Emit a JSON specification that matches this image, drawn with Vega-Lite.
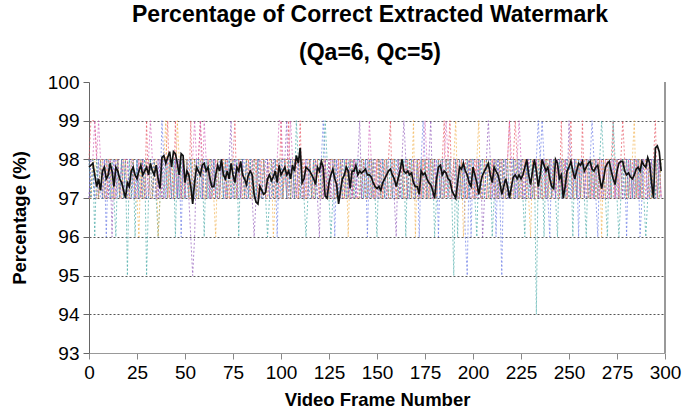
{
"$schema": "https://vega.github.io/schema/vega-lite/v6.json",
"width": 576, "height": 271,
"autosize": {"type": "none"},
"padding": {"left": 89, "top": 82, "right": 35, "bottom": 62},
"background": "white",
"config": {"view": {"stroke": null}, "font": "Liberation Sans"},
"title": {"text": "Percentage of Correct Extracted Watermark", "subtitle": "(Qa=6, Qc=5)", "fontSize": 23, "subtitleFontSize": 23, "subtitleFontWeight": "bold", "font": "Liberation Sans", "subtitleFont": "Liberation Sans", "color": "#000", "subtitleColor": "#000", "anchor": "middle", "dx": -7, "offset": 8, "subtitlePadding": 15},
"datasets": {"border": [{"f": 300, "value": 93, "v2": 100}]},
"data": {"values": [
{"f":0,"r":98,"p":97,"u":98,"b":97,"t":98,"o":97,"m":97.8},
{"f":1,"r":99,"p":98,"u":97,"b":98,"t":97,"o":97,"m":97.85},
{"f":2,"r":99,"p":98,"u":98,"b":98,"t":98,"o":98,"m":97.9},
{"f":3,"r":99,"p":99,"u":97,"b":97,"t":96,"o":98,"m":97.6},
{"f":4,"r":98,"p":98,"u":97,"b":97,"t":98,"o":97,"m":97.3},
{"f":5,"r":97,"p":99,"u":98,"b":98,"t":97,"o":97,"m":97.5},
{"f":6,"r":98,"p":98,"u":98,"b":97,"t":98,"o":98,"m":97.2},
{"f":7,"r":97,"p":98,"u":97,"b":97,"t":97,"o":98,"m":97.7},
{"f":8,"r":97,"p":97,"u":98,"b":98,"t":97,"o":97,"m":97.8},
{"f":9,"r":98,"p":97,"u":97,"b":96,"t":98,"o":97,"m":97.5},
{"f":10,"r":97,"p":98,"u":97,"b":98,"t":98,"o":98,"m":97.6},
{"f":11,"r":98,"p":98,"u":98,"b":97,"t":97,"o":98,"m":97.9},
{"f":12,"r":98,"p":97,"u":96,"b":97,"t":98,"o":97,"m":97.7},
{"f":13,"r":97,"p":97,"u":98,"b":98,"t":97,"o":97,"m":97.3},
{"f":14,"r":97,"p":98,"u":97,"b":98,"t":96,"o":98,"m":97.8},
{"f":15,"r":98,"p":98,"u":98,"b":97,"t":98,"o":98,"m":97.7},
{"f":16,"r":97,"p":97,"u":97,"b":97,"t":97,"o":97,"m":97.5},
{"f":17,"r":98,"p":97,"u":98,"b":98,"t":98,"o":97,"m":97.4},
{"f":18,"r":97,"p":98,"u":97,"b":98,"t":97,"o":98,"m":97.2},
{"f":19,"r":98,"p":98,"u":98,"b":97,"t":98,"o":98,"m":97.0},
{"f":20,"r":98,"p":97,"u":98,"b":97,"t":95,"o":97,"m":97.4},
{"f":21,"r":97,"p":97,"u":97,"b":98,"t":98,"o":97,"m":97.3},
{"f":22,"r":97,"p":98,"u":97,"b":98,"t":97,"o":98,"m":97.7},
{"f":23,"r":98,"p":98,"u":98,"b":97,"t":98,"o":98,"m":97.8},
{"f":24,"r":97,"p":97,"u":97,"b":97,"t":96,"o":97,"m":97.6},
{"f":25,"r":97,"p":97,"u":98,"b":98,"t":98,"o":97,"m":97.5},
{"f":26,"r":98,"p":98,"u":97,"b":97,"t":97,"o":96,"m":97.7},
{"f":27,"r":97,"p":98,"u":97,"b":97,"t":98,"o":98,"m":97.85},
{"f":28,"r":98,"p":97,"u":98,"b":98,"t":97,"o":97,"m":97.6},
{"f":29,"r":97,"p":97,"u":97,"b":98,"t":98,"o":97,"m":97.7},
{"f":30,"r":99,"p":98,"u":97,"b":97,"t":95,"o":98,"m":97.8},
{"f":31,"r":97,"p":98,"u":98,"b":97,"t":97,"o":98,"m":97.6},
{"f":32,"r":98,"p":99,"u":97,"b":98,"t":98,"o":97,"m":97.9},
{"f":33,"r":97,"p":98,"u":97,"b":98,"t":97,"o":97,"m":97.7},
{"f":34,"r":98,"p":98,"u":98,"b":97,"t":98,"o":98,"m":97.6},
{"f":35,"r":97,"p":97,"u":98,"b":97,"t":97,"o":98,"m":97.85},
{"f":36,"r":98,"p":97,"u":97,"b":98,"t":96,"o":96,"m":97.5},
{"f":37,"r":98,"p":98,"u":98,"b":97,"t":97,"o":97,"m":97.25},
{"f":38,"r":97,"p":98,"u":97,"b":99,"t":98,"o":98,"m":98.05},
{"f":39,"r":97,"p":97,"u":98,"b":98,"t":97,"o":98,"m":98.1},
{"f":40,"r":98,"p":97,"u":98,"b":97,"t":98,"o":99,"m":97.9},
{"f":41,"r":99,"p":98,"u":97,"b":98,"t":97,"o":97,"m":98.05},
{"f":42,"r":97,"p":98,"u":98,"b":98,"t":98,"o":98,"m":98.2},
{"f":43,"r":98,"p":97,"u":97,"b":97,"t":97,"o":98,"m":97.8},
{"f":44,"r":97,"p":97,"u":97,"b":97,"t":98,"o":97,"m":98.2},
{"f":45,"r":99,"p":98,"u":98,"b":98,"t":96,"o":97,"m":98.15},
{"f":46,"r":97,"p":98,"u":97,"b":97,"t":98,"o":99,"m":97.9},
{"f":47,"r":98,"p":97,"u":98,"b":98,"t":97,"o":98,"m":97.6},
{"f":48,"r":97,"p":97,"u":97,"b":96,"t":98,"o":97,"m":98.15},
{"f":49,"r":98,"p":98,"u":98,"b":98,"t":97,"o":97,"m":98.1},
{"f":50,"r":97,"p":98,"u":97,"b":97,"t":97,"o":98,"m":97.4},
{"f":51,"r":98,"p":98,"u":98,"b":97,"t":98,"o":98,"m":97.7},
{"f":52,"r":97,"p":97,"u":97,"b":98,"t":97,"o":97,"m":97.6},
{"f":53,"r":99,"p":97,"u":96,"b":98,"t":98,"o":97,"m":97.3},
{"f":54,"r":97,"p":98,"u":95,"b":97,"t":97,"o":98,"m":96.85},
{"f":55,"r":98,"p":99,"u":96,"b":97,"t":98,"o":98,"m":97.4},
{"f":56,"r":97,"p":98,"u":98,"b":98,"t":97,"o":97,"m":97.8},
{"f":57,"r":98,"p":98,"u":97,"b":98,"t":98,"o":97,"m":97.7},
{"f":58,"r":99,"p":99,"u":98,"b":97,"t":97,"o":98,"m":97.6},
{"f":59,"r":98,"p":97,"u":97,"b":97,"t":98,"o":98,"m":97.85},
{"f":60,"r":97,"p":99,"u":98,"b":98,"t":96,"o":97,"m":97.9},
{"f":61,"r":97,"p":98,"u":97,"b":98,"t":98,"o":97,"m":97.7},
{"f":62,"r":98,"p":98,"u":98,"b":97,"t":97,"o":98,"m":97.8},
{"f":63,"r":97,"p":97,"u":97,"b":97,"t":98,"o":98,"m":97.5},
{"f":64,"r":98,"p":97,"u":97,"b":98,"t":97,"o":97,"m":97.3},
{"f":65,"r":97,"p":98,"u":98,"b":98,"t":98,"o":97,"m":97.3},
{"f":66,"r":98,"p":98,"u":97,"b":97,"t":97,"o":96,"m":97.6},
{"f":67,"r":97,"p":97,"u":98,"b":97,"t":98,"o":98,"m":97.85},
{"f":68,"r":97,"p":97,"u":97,"b":98,"t":97,"o":97,"m":97.7},
{"f":69,"r":98,"p":98,"u":98,"b":98,"t":98,"o":97,"m":98.0},
{"f":70,"r":98,"p":98,"u":97,"b":97,"t":97,"o":98,"m":97.6},
{"f":71,"r":97,"p":98,"u":98,"b":97,"t":98,"o":98,"m":97.5},
{"f":72,"r":98,"p":97,"u":97,"b":98,"t":97,"o":97,"m":97.7},
{"f":73,"r":97,"p":97,"u":98,"b":98,"t":98,"o":97,"m":97.5},
{"f":74,"r":97,"p":98,"u":99,"b":97,"t":97,"o":98,"m":97.9},
{"f":75,"r":98,"p":98,"u":97,"b":97,"t":98,"o":98,"m":97.6},
{"f":76,"r":99,"p":97,"u":98,"b":98,"t":97,"o":97,"m":97.4},
{"f":77,"r":97,"p":97,"u":97,"b":98,"t":98,"o":97,"m":97.8},
{"f":78,"r":98,"p":98,"u":98,"b":97,"t":96,"o":98,"m":97.7},
{"f":79,"r":97,"p":98,"u":97,"b":97,"t":98,"o":98,"m":97.95},
{"f":80,"r":98,"p":97,"u":98,"b":98,"t":98,"o":97,"m":97.6},
{"f":81,"r":97,"p":97,"u":97,"b":98,"t":97,"o":97,"m":97.5},
{"f":82,"r":97,"p":98,"u":98,"b":97,"t":98,"o":98,"m":97.35},
{"f":83,"r":98,"p":98,"u":97,"b":97,"t":97,"o":98,"m":97.6},
{"f":84,"r":97,"p":97,"u":98,"b":98,"t":98,"o":97,"m":97.7},
{"f":85,"r":98,"p":97,"u":97,"b":98,"t":97,"o":97,"m":97.6},
{"f":86,"r":97,"p":98,"u":96,"b":97,"t":98,"o":98,"m":97.1},
{"f":87,"r":98,"p":98,"u":97,"b":97,"t":97,"o":98,"m":96.9},
{"f":88,"r":97,"p":97,"u":98,"b":98,"t":98,"o":97,"m":96.85},
{"f":89,"r":98,"p":97,"u":97,"b":98,"t":97,"o":97,"m":97.3},
{"f":90,"r":97,"p":98,"u":97,"b":97,"t":97,"o":98,"m":97.2},
{"f":91,"r":98,"p":98,"u":98,"b":97,"t":98,"o":98,"m":97.1},
{"f":92,"r":97,"p":97,"u":97,"b":98,"t":97,"o":97,"m":97.15},
{"f":93,"r":98,"p":97,"u":98,"b":98,"t":96,"o":97,"m":97.5},
{"f":94,"r":97,"p":98,"u":97,"b":97,"t":97,"o":98,"m":97.6},
{"f":95,"r":97,"p":98,"u":98,"b":97,"t":98,"o":98,"m":97.45},
{"f":96,"r":98,"p":97,"u":97,"b":98,"t":97,"o":96,"m":97.55},
{"f":97,"r":97,"p":97,"u":98,"b":98,"t":98,"o":97,"m":97.7},
{"f":98,"r":98,"p":98,"u":97,"b":96,"t":97,"o":98,"m":97.4},
{"f":99,"r":97,"p":99,"u":98,"b":98,"t":98,"o":98,"m":97.85},
{"f":100,"r":99,"p":99,"u":98,"b":97,"t":98,"o":97,"m":97.6},
{"f":101,"r":97,"p":98,"u":97,"b":98,"t":97,"o":97,"m":97.7},
{"f":102,"r":98,"p":98,"u":98,"b":98,"t":98,"o":98,"m":97.8},
{"f":103,"r":97,"p":97,"u":99,"b":97,"t":97,"o":98,"m":97.6},
{"f":104,"r":99,"p":98,"u":97,"b":97,"t":98,"o":97,"m":97.7},
{"f":105,"r":97,"p":99,"u":98,"b":98,"t":97,"o":97,"m":97.5},
{"f":106,"r":98,"p":98,"u":97,"b":98,"t":98,"o":98,"m":97.85},
{"f":107,"r":97,"p":98,"u":98,"b":97,"t":97,"o":98,"m":97.7},
{"f":108,"r":98,"p":97,"u":97,"b":97,"t":99,"o":97,"m":98.1},
{"f":109,"r":97,"p":97,"u":98,"b":98,"t":98,"o":97,"m":97.9},
{"f":110,"r":99,"p":98,"u":97,"b":98,"t":97,"o":98,"m":98.3},
{"f":111,"r":97,"p":98,"u":98,"b":97,"t":98,"o":98,"m":97.4},
{"f":112,"r":98,"p":97,"u":97,"b":97,"t":97,"o":97,"m":97.5},
{"f":113,"r":97,"p":97,"u":98,"b":98,"t":96,"o":97,"m":97.8},
{"f":114,"r":97,"p":98,"u":97,"b":98,"t":97,"o":98,"m":97.75},
{"f":115,"r":98,"p":98,"u":98,"b":97,"t":98,"o":98,"m":97.7},
{"f":116,"r":97,"p":97,"u":97,"b":97,"t":97,"o":97,"m":97.6},
{"f":117,"r":98,"p":97,"u":97,"b":98,"t":98,"o":97,"m":97.5},
{"f":118,"r":97,"p":98,"u":98,"b":98,"t":97,"o":98,"m":97.35},
{"f":119,"r":98,"p":98,"u":97,"b":97,"t":98,"o":98,"m":97.8},
{"f":120,"r":97,"p":97,"u":96,"b":97,"t":98,"o":97,"m":97.7},
{"f":121,"r":98,"p":97,"u":98,"b":98,"t":97,"o":97,"m":97.95},
{"f":122,"r":97,"p":98,"u":97,"b":99,"t":98,"o":98,"m":97.8},
{"f":123,"r":98,"p":98,"u":98,"b":98,"t":99,"o":98,"m":97.05},
{"f":124,"r":97,"p":97,"u":97,"b":97,"t":98,"o":97,"m":97.0},
{"f":125,"r":98,"p":97,"u":98,"b":97,"t":97,"o":97,"m":97.4},
{"f":126,"r":97,"p":98,"u":97,"b":98,"t":96,"o":98,"m":97.6},
{"f":127,"r":97,"p":98,"u":98,"b":98,"t":97,"o":98,"m":97.75},
{"f":128,"r":98,"p":97,"u":97,"b":96,"t":98,"o":97,"m":97.5},
{"f":129,"r":97,"p":97,"u":98,"b":98,"t":97,"o":97,"m":97.35},
{"f":130,"r":98,"p":98,"u":97,"b":97,"t":97,"o":98,"m":96.85},
{"f":131,"r":97,"p":98,"u":98,"b":97,"t":98,"o":98,"m":97.2},
{"f":132,"r":98,"p":97,"u":97,"b":98,"t":97,"o":97,"m":97.5},
{"f":133,"r":97,"p":97,"u":97,"b":98,"t":98,"o":97,"m":97.6},
{"f":134,"r":98,"p":98,"u":98,"b":97,"t":97,"o":98,"m":97.8},
{"f":135,"r":97,"p":98,"u":97,"b":97,"t":98,"o":96,"m":97.7},
{"f":136,"r":98,"p":97,"u":98,"b":98,"t":97,"o":98,"m":97.25},
{"f":137,"r":97,"p":97,"u":97,"b":98,"t":98,"o":98,"m":97.7},
{"f":138,"r":98,"p":98,"u":98,"b":97,"t":97,"o":97,"m":97.7},
{"f":139,"r":97,"p":98,"u":97,"b":97,"t":98,"o":97,"m":97.85},
{"f":140,"r":97,"p":97,"u":98,"b":98,"t":98,"o":97,"m":97.6},
{"f":141,"r":98,"p":97,"u":99,"b":98,"t":97,"o":97,"m":97.7},
{"f":142,"r":97,"p":98,"u":97,"b":97,"t":98,"o":98,"m":97.65},
{"f":143,"r":98,"p":98,"u":98,"b":97,"t":97,"o":98,"m":97.7},
{"f":144,"r":97,"p":97,"u":97,"b":98,"t":98,"o":97,"m":97.75},
{"f":145,"r":97,"p":97,"u":98,"b":96,"t":97,"o":97,"m":97.6},
{"f":146,"r":98,"p":99,"u":97,"b":98,"t":98,"o":98,"m":97.6},
{"f":147,"r":97,"p":98,"u":98,"b":98,"t":97,"o":98,"m":97.55},
{"f":148,"r":98,"p":97,"u":97,"b":97,"t":98,"o":97,"m":97.4},
{"f":149,"r":97,"p":97,"u":98,"b":97,"t":97,"o":97,"m":97.3},
{"f":150,"r":98,"p":98,"u":97,"b":97,"t":96,"o":98,"m":97.25},
{"f":151,"r":97,"p":98,"u":98,"b":97,"t":98,"o":98,"m":97.3},
{"f":152,"r":98,"p":97,"u":97,"b":98,"t":97,"o":97,"m":97.2},
{"f":153,"r":97,"p":97,"u":98,"b":98,"t":98,"o":97,"m":97.4},
{"f":154,"r":98,"p":98,"u":97,"b":97,"t":97,"o":98,"m":97.5},
{"f":155,"r":97,"p":98,"u":98,"b":97,"t":98,"o":98,"m":97.6},
{"f":156,"r":98,"p":97,"u":97,"b":98,"t":97,"o":97,"m":97.7},
{"f":157,"r":99,"p":97,"u":97,"b":98,"t":98,"o":97,"m":97.75},
{"f":158,"r":97,"p":98,"u":98,"b":97,"t":97,"o":98,"m":97.6},
{"f":159,"r":98,"p":98,"u":97,"b":97,"t":98,"o":98,"m":97.5},
{"f":160,"r":97,"p":97,"u":96,"b":98,"t":98,"o":97,"m":97.3},
{"f":161,"r":98,"p":97,"u":98,"b":98,"t":97,"o":97,"m":97.5},
{"f":162,"r":97,"p":98,"u":97,"b":97,"t":98,"o":98,"m":97.7},
{"f":163,"r":98,"p":98,"u":98,"b":97,"t":97,"o":98,"m":98.0},
{"f":164,"r":97,"p":97,"u":99,"b":98,"t":98,"o":97,"m":97.7},
{"f":165,"r":98,"p":97,"u":98,"b":98,"t":96,"o":97,"m":97.65},
{"f":166,"r":97,"p":98,"u":97,"b":97,"t":98,"o":98,"m":97.7},
{"f":167,"r":98,"p":98,"u":98,"b":97,"t":97,"o":98,"m":97.6},
{"f":168,"r":97,"p":97,"u":97,"b":98,"t":98,"o":97,"m":97.65},
{"f":169,"r":98,"p":97,"u":98,"b":98,"t":97,"o":99,"m":97.4},
{"f":170,"r":97,"p":98,"u":97,"b":97,"t":97,"o":96,"m":97.3},
{"f":171,"r":97,"p":98,"u":98,"b":98,"t":98,"o":98,"m":97.3},
{"f":172,"r":98,"p":97,"u":97,"b":96,"t":97,"o":97,"m":97.1},
{"f":173,"r":97,"p":97,"u":98,"b":98,"t":98,"o":97,"m":97.7},
{"f":174,"r":98,"p":98,"u":97,"b":99,"t":97,"o":98,"m":97.6},
{"f":175,"r":97,"p":99,"u":98,"b":98,"t":98,"o":98,"m":97.65},
{"f":176,"r":98,"p":98,"u":97,"b":97,"t":97,"o":97,"m":97.5},
{"f":177,"r":97,"p":98,"u":98,"b":97,"t":98,"o":97,"m":97.4},
{"f":178,"r":98,"p":97,"u":99,"b":98,"t":97,"o":98,"m":97.35},
{"f":179,"r":97,"p":97,"u":97,"b":98,"t":98,"o":98,"m":97.2},
{"f":180,"r":98,"p":97,"u":98,"b":97,"t":96,"o":97,"m":97.0},
{"f":181,"r":97,"p":97,"u":97,"b":98,"t":97,"o":97,"m":97.5},
{"f":182,"r":98,"p":98,"u":98,"b":96,"t":98,"o":98,"m":97.8},
{"f":183,"r":97,"p":98,"u":97,"b":98,"t":97,"o":98,"m":97.85},
{"f":184,"r":98,"p":97,"u":98,"b":97,"t":98,"o":97,"m":97.6},
{"f":185,"r":99,"p":98,"u":97,"b":97,"t":97,"o":97,"m":97.7},
{"f":186,"r":97,"p":99,"u":98,"b":98,"t":98,"o":98,"m":97.65},
{"f":187,"r":98,"p":98,"u":97,"b":98,"t":97,"o":98,"m":97.5},
{"f":188,"r":99,"p":97,"u":98,"b":97,"t":98,"o":97,"m":97.45},
{"f":189,"r":97,"p":97,"u":97,"b":97,"t":97,"o":97,"m":97.2},
{"f":190,"r":98,"p":98,"u":97,"b":98,"t":95,"o":98,"m":97.1},
{"f":191,"r":97,"p":98,"u":98,"b":98,"t":98,"o":99,"m":97.0},
{"f":192,"r":98,"p":97,"u":97,"b":97,"t":96,"o":97,"m":97.4},
{"f":193,"r":97,"p":97,"u":98,"b":97,"t":98,"o":97,"m":97.8},
{"f":194,"r":98,"p":98,"u":97,"b":98,"t":97,"o":98,"m":97.75},
{"f":195,"r":97,"p":98,"u":98,"b":98,"t":98,"o":96,"m":97.9},
{"f":196,"r":98,"p":97,"u":97,"b":96,"t":97,"o":97,"m":97.7},
{"f":197,"r":97,"p":97,"u":98,"b":95,"t":98,"o":97,"m":97.6},
{"f":198,"r":98,"p":98,"u":97,"b":98,"t":97,"o":98,"m":97.4},
{"f":199,"r":97,"p":98,"u":98,"b":96,"t":98,"o":98,"m":97.3},
{"f":200,"r":97,"p":97,"u":98,"b":98,"t":98,"o":97,"m":97.8},
{"f":201,"r":98,"p":97,"u":97,"b":97,"t":97,"o":97,"m":97.6},
{"f":202,"r":97,"p":98,"u":98,"b":97,"t":96,"o":98,"m":97.4},
{"f":203,"r":98,"p":98,"u":97,"b":98,"t":98,"o":99,"m":97.1},
{"f":204,"r":97,"p":97,"u":98,"b":98,"t":97,"o":97,"m":97.4},
{"f":205,"r":97,"p":97,"u":96,"b":97,"t":98,"o":97,"m":97.6},
{"f":206,"r":98,"p":98,"u":97,"b":97,"t":97,"o":98,"m":97.7},
{"f":207,"r":97,"p":98,"u":98,"b":98,"t":98,"o":98,"m":97.8},
{"f":208,"r":98,"p":97,"u":99,"b":98,"t":97,"o":97,"m":97.9},
{"f":209,"r":97,"p":97,"u":98,"b":97,"t":98,"o":97,"m":97.6},
{"f":210,"r":98,"p":98,"u":97,"b":97,"t":96,"o":98,"m":97.4},
{"f":211,"r":97,"p":98,"u":98,"b":98,"t":97,"o":98,"m":97.8},
{"f":212,"r":98,"p":97,"u":97,"b":96,"t":98,"o":97,"m":97.7},
{"f":213,"r":97,"p":97,"u":98,"b":98,"t":97,"o":97,"m":97.6},
{"f":214,"r":98,"p":98,"u":97,"b":97,"t":98,"o":98,"m":97.4},
{"f":215,"r":97,"p":98,"u":98,"b":95,"t":97,"o":98,"m":97.1},
{"f":216,"r":98,"p":97,"u":97,"b":98,"t":98,"o":97,"m":97.3},
{"f":217,"r":97,"p":97,"u":98,"b":98,"t":97,"o":97,"m":97.5},
{"f":218,"r":98,"p":98,"u":97,"b":97,"t":98,"o":98,"m":97.3},
{"f":219,"r":99,"p":99,"u":98,"b":97,"t":97,"o":98,"m":97.0},
{"f":220,"r":97,"p":98,"u":98,"b":98,"t":97,"o":97,"m":97.3},
{"f":221,"r":98,"p":98,"u":97,"b":98,"t":98,"o":97,"m":97.55},
{"f":222,"r":99,"p":97,"u":98,"b":97,"t":97,"o":98,"m":97.6},
{"f":223,"r":98,"p":98,"u":97,"b":97,"t":98,"o":98,"m":97.5},
{"f":224,"r":97,"p":99,"u":98,"b":98,"t":97,"o":97,"m":97.6},
{"f":225,"r":98,"p":98,"u":97,"b":98,"t":98,"o":97,"m":97.5},
{"f":226,"r":97,"p":97,"u":98,"b":97,"t":97,"o":98,"m":97.6},
{"f":227,"r":98,"p":97,"u":97,"b":97,"t":96,"o":98,"m":97.8},
{"f":228,"r":97,"p":98,"u":98,"b":98,"t":98,"o":97,"m":98.0},
{"f":229,"r":98,"p":98,"u":97,"b":98,"t":97,"o":97,"m":97.6},
{"f":230,"r":97,"p":97,"u":97,"b":97,"t":98,"o":96,"m":97.35},
{"f":231,"r":98,"p":97,"u":98,"b":97,"t":97,"o":98,"m":97.7},
{"f":232,"r":97,"p":98,"u":97,"b":98,"t":98,"o":97,"m":98.0},
{"f":233,"r":98,"p":98,"u":98,"b":98,"t":94,"o":97,"m":97.7},
{"f":234,"r":97,"p":97,"u":97,"b":99,"t":98,"o":98,"m":97.3},
{"f":235,"r":98,"p":97,"u":98,"b":98,"t":97,"o":98,"m":97.6},
{"f":236,"r":97,"p":98,"u":97,"b":99,"t":98,"o":97,"m":98.0},
{"f":237,"r":97,"p":98,"u":98,"b":98,"t":96,"o":97,"m":97.85},
{"f":238,"r":98,"p":97,"u":97,"b":97,"t":98,"o":98,"m":97.7},
{"f":239,"r":97,"p":97,"u":98,"b":97,"t":97,"o":98,"m":97.8},
{"f":240,"r":98,"p":98,"u":98,"b":96,"t":98,"o":97,"m":97.5},
{"f":241,"r":97,"p":98,"u":97,"b":98,"t":97,"o":97,"m":97.3},
{"f":242,"r":98,"p":97,"u":98,"b":98,"t":98,"o":98,"m":97.25},
{"f":243,"r":97,"p":97,"u":97,"b":97,"t":97,"o":98,"m":98.0},
{"f":244,"r":98,"p":98,"u":98,"b":97,"t":96,"o":97,"m":97.9},
{"f":245,"r":97,"p":98,"u":97,"b":98,"t":98,"o":97,"m":97.5},
{"f":246,"r":99,"p":97,"u":98,"b":98,"t":97,"o":98,"m":97.6},
{"f":247,"r":97,"p":97,"u":97,"b":97,"t":98,"o":98,"m":97.0},
{"f":248,"r":98,"p":98,"u":98,"b":97,"t":97,"o":97,"m":97.3},
{"f":249,"r":97,"p":98,"u":97,"b":98,"t":98,"o":97,"m":97.7},
{"f":250,"r":98,"p":97,"u":99,"b":98,"t":97,"o":98,"m":97.8},
{"f":251,"r":99,"p":97,"u":98,"b":97,"t":98,"o":98,"m":97.95},
{"f":252,"r":97,"p":98,"u":97,"b":97,"t":96,"o":97,"m":97.7},
{"f":253,"r":98,"p":98,"u":98,"b":98,"t":98,"o":97,"m":97.5},
{"f":254,"r":97,"p":97,"u":97,"b":98,"t":97,"o":98,"m":97.7},
{"f":255,"r":98,"p":97,"u":98,"b":96,"t":98,"o":98,"m":97.9},
{"f":256,"r":97,"p":98,"u":97,"b":98,"t":97,"o":97,"m":97.85},
{"f":257,"r":99,"p":98,"u":98,"b":98,"t":98,"o":97,"m":97.95},
{"f":258,"r":97,"p":97,"u":97,"b":98,"t":97,"o":98,"m":97.7},
{"f":259,"r":98,"p":97,"u":98,"b":97,"t":96,"o":98,"m":97.8},
{"f":260,"r":97,"p":98,"u":98,"b":97,"t":98,"o":97,"m":97.9},
{"f":261,"r":98,"p":98,"u":97,"b":98,"t":97,"o":97,"m":97.95},
{"f":262,"r":97,"p":97,"u":98,"b":99,"t":98,"o":98,"m":97.75},
{"f":263,"r":98,"p":97,"u":97,"b":98,"t":97,"o":98,"m":97.7},
{"f":264,"r":97,"p":98,"u":98,"b":97,"t":98,"o":97,"m":97.8},
{"f":265,"r":98,"p":98,"u":97,"b":96,"t":97,"o":97,"m":97.85},
{"f":266,"r":97,"p":97,"u":98,"b":98,"t":98,"o":98,"m":97.5},
{"f":267,"r":98,"p":97,"u":97,"b":98,"t":99,"o":96,"m":97.25},
{"f":268,"r":97,"p":98,"u":98,"b":97,"t":98,"o":98,"m":97.5},
{"f":269,"r":98,"p":98,"u":97,"b":97,"t":97,"o":97,"m":97.8},
{"f":270,"r":98,"p":97,"u":97,"b":98,"t":96,"o":98,"m":97.9},
{"f":271,"r":97,"p":97,"u":98,"b":98,"t":98,"o":98,"m":97.95},
{"f":272,"r":98,"p":98,"u":97,"b":97,"t":97,"o":97,"m":97.7},
{"f":273,"r":99,"p":98,"u":98,"b":97,"t":99,"o":97,"m":97.5},
{"f":274,"r":97,"p":97,"u":97,"b":98,"t":98,"o":98,"m":97.35},
{"f":275,"r":98,"p":97,"u":98,"b":98,"t":97,"o":98,"m":97.7},
{"f":276,"r":97,"p":98,"u":97,"b":97,"t":96,"o":97,"m":97.9},
{"f":277,"r":98,"p":98,"u":98,"b":97,"t":97,"o":97,"m":97.95},
{"f":278,"r":99,"p":97,"u":97,"b":98,"t":98,"o":98,"m":97.95},
{"f":279,"r":98,"p":97,"u":98,"b":98,"t":97,"o":98,"m":97.7},
{"f":280,"r":97,"p":98,"u":98,"b":96,"t":98,"o":97,"m":97.6},
{"f":281,"r":98,"p":98,"u":97,"b":98,"t":97,"o":97,"m":97.65},
{"f":282,"r":97,"p":97,"u":98,"b":98,"t":98,"o":98,"m":97.55},
{"f":283,"r":98,"p":97,"u":97,"b":97,"t":97,"o":98,"m":97.5},
{"f":284,"r":97,"p":98,"u":98,"b":97,"t":98,"o":99,"m":97.6},
{"f":285,"r":98,"p":98,"u":97,"b":98,"t":97,"o":97,"m":97.75},
{"f":286,"r":97,"p":97,"u":98,"b":98,"t":98,"o":98,"m":97.8},
{"f":287,"r":98,"p":97,"u":97,"b":96,"t":97,"o":98,"m":97.7},
{"f":288,"r":97,"p":98,"u":98,"b":97,"t":98,"o":97,"m":97.95},
{"f":289,"r":98,"p":98,"u":97,"b":98,"t":97,"o":97,"m":97.85},
{"f":290,"r":98,"p":97,"u":97,"b":98,"t":96,"o":98,"m":97.8},
{"f":291,"r":97,"p":97,"u":98,"b":97,"t":97,"o":98,"m":98.05},
{"f":292,"r":98,"p":98,"u":97,"b":97,"t":98,"o":97,"m":97.9},
{"f":293,"r":97,"p":98,"u":98,"b":98,"t":97,"o":97,"m":97.4},
{"f":294,"r":98,"p":97,"u":97,"b":98,"t":98,"o":98,"m":97.0},
{"f":295,"r":99,"p":97,"u":98,"b":97,"t":97,"o":98,"m":98.3},
{"f":296,"r":97,"p":98,"u":97,"b":97,"t":98,"o":97,"m":98.35},
{"f":297,"r":98,"p":98,"u":98,"b":98,"t":97,"o":97,"m":98.2},
{"f":298,"r":97,"p":97,"u":97,"b":98,"t":98,"o":98,"m":97.7}
]},
"encoding": {
"x": {"field": "f", "type": "quantitative", "scale": {"domain": [0,300], "nice": false},
"axis": {"title": "Video Frame Number", "values": [0,25,50,75,100,125,150,175,200,225,250,275,300], "grid": false, "labelFlush": false, "labelOverlap": false, "labelFontSize": 19, "labelColor": "#000", "labelFont": "Liberation Sans", "labelPadding": 4, "tickSize": 6, "tickColor": "#888", "domainColor": "#999", "titleFontSize": 18.5, "titleFont": "Liberation Sans", "titleFontWeight": "bold", "titleColor": "#000", "titlePadding": 8}},
"y": {"field": "value", "type": "quantitative", "scale": {"domain": [93,100], "nice": false, "zero": false},
"axis": {"title": "Percentage (%)", "values": [93,94,95,96,97,98,99,100], "grid": true, "gridDash": [2,2], "gridColor": "#555", "gridOpacity": {"condition": {"test": "datum.value == 93 || datum.value == 100", "value": 0}, "value": 1}, "labelFlush": false, "labelOverlap": false, "labelFontSize": 19, "labelColor": "#000", "labelFont": "Liberation Sans", "labelPadding": 4, "tickSize": 6, "tickColor": "#666", "domainColor": "#666", "titleFontSize": 18.5, "titleFont": "Liberation Sans", "titleFontWeight": "bold", "titleColor": "#000", "titlePadding": 18}}
},
"layer": [
{
"transform": [{"fold": ["r","p","u","b","t","o"], "as": ["s","value"]}],
"mark": {"type": "line", "strokeWidth": 0.9, "strokeDash": [2,2], "opacity": 0.75},
"encoding": {
"color": {"field": "s", "type": "nominal", "legend": null, "scale": {"domain": ["r","p","u","b","t","o"], "range": ["#e6505e","#d15fb8","#8e55b8","#6677e6","#3fa6a2","#f2b04a"]}}
}
},
{
"transform": [{"fold": ["m"], "as": ["s","value"]}],
"mark": {"type": "line", "strokeWidth": 1.7, "color": "#111"},
"encoding": {}
},
{
"data": {"name": "border"},
"mark": {"type": "rule", "color": "#999", "strokeWidth": 2},
"encoding": {
"x": {"field": "f", "type": "quantitative"},
"y": {"field": "value", "type": "quantitative"},
"y2": {"field": "v2"}
}
}
]
}
